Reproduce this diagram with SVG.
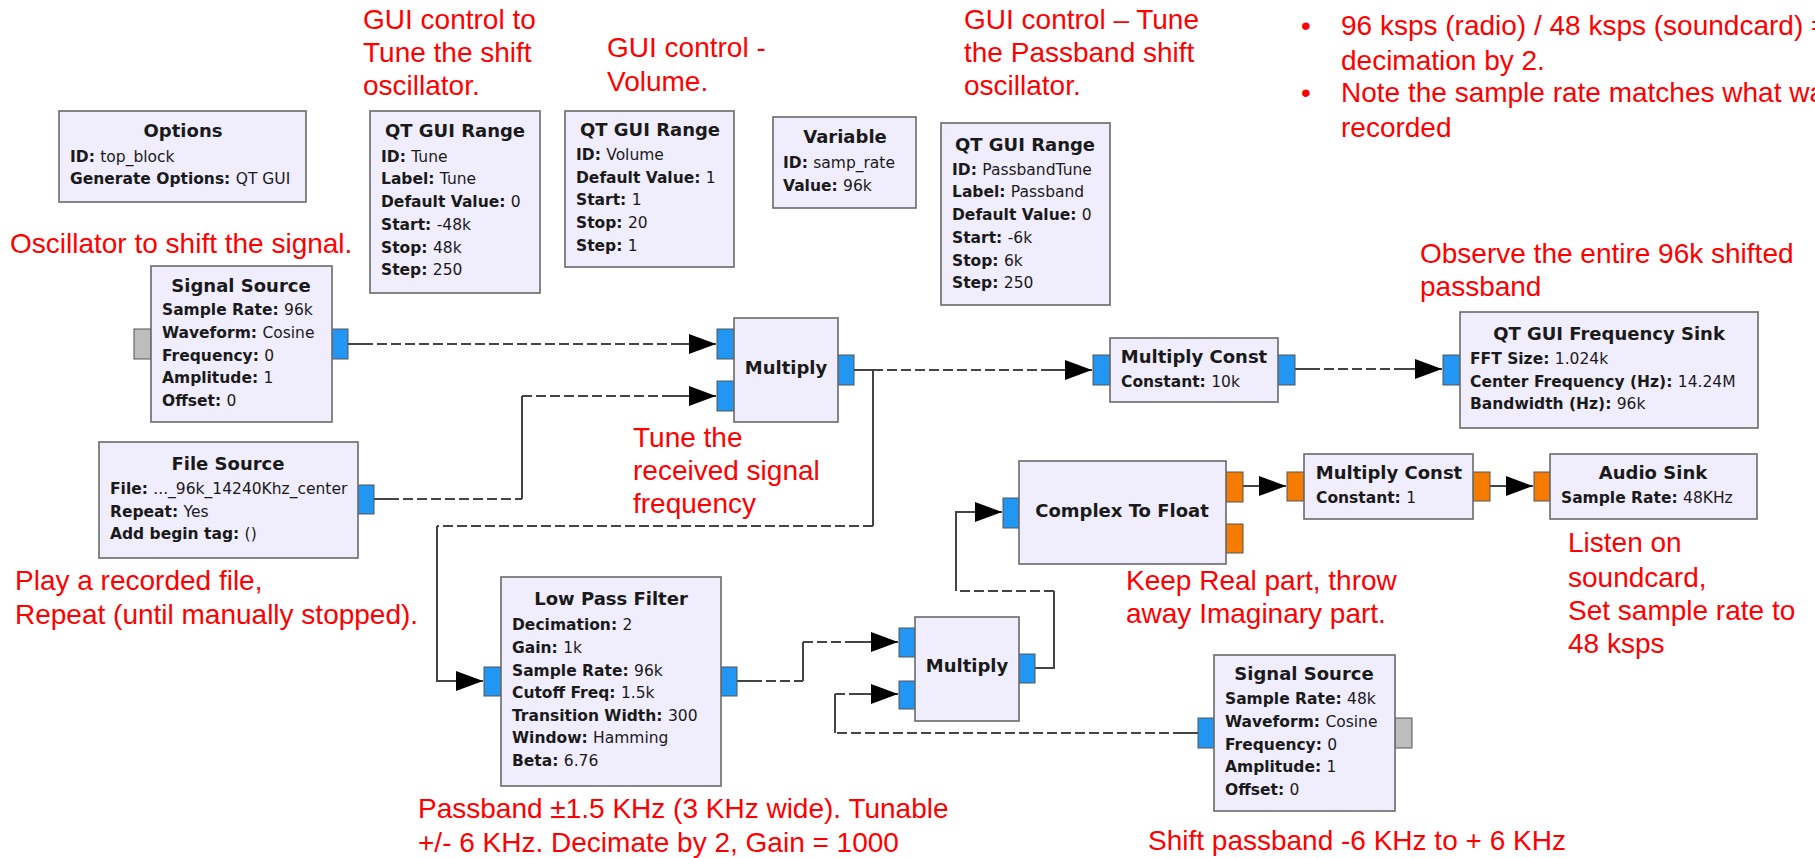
<svg xmlns="http://www.w3.org/2000/svg" width="1815" height="858" viewBox="0 0 1815 858">
<style>
.blk{fill:#F0EDFD;stroke:#6a6a6a;stroke-width:1.6}
.pc{fill:#2196F3;stroke:#555;stroke-width:1}
.pf{fill:#F57C00;stroke:#555;stroke-width:1}
.pg{fill:#BDBDBD;stroke:#555;stroke-width:1}
.t{font-family:"DejaVu Sans",sans-serif;font-size:18px;font-weight:bold;fill:#1a1a1a;text-anchor:middle}
.p{font-family:"DejaVu Sans",sans-serif;font-size:15.5px;fill:#1a1a1a}
.p tspan.b{font-weight:bold}
.r{font-family:"Liberation Sans",Arial,sans-serif;font-size:28px;fill:#ff0000}
.s{stroke:#444;stroke-width:2;fill:none}
.d{stroke:#444;stroke-width:2;fill:none;stroke-dasharray:10 4}
</style>
<defs>
<marker id="ah" markerUnits="userSpaceOnUse" viewBox="0 0 27 20" markerWidth="27" markerHeight="20" refX="27" refY="10" orient="auto">
<path d="M0,0 L27,10 L0,20 z" fill="#000"/>
</marker>
</defs>

<g id="connectors">
<g id="c1"><path class="s" d="M348,344H363"/><path class="d" d="M363,344H672"/><path class="s" d="M672,344H716" marker-end="url(#ah)"/></g>
<g id="c2"><path class="s" d="M374,499H389"/><path class="d" d="M389,499H522"/><path class="s" d="M522,499V396"/><path class="d" d="M522,396H672"/><path class="s" d="M672,396H716" marker-end="url(#ah)"/></g>
<g id="c3"><path class="s" d="M854,370H873"/><path class="d" d="M873,370H1048"/><path class="s" d="M1048,370H1092" marker-end="url(#ah)"/></g>
<g id="c4"><path class="s" d="M873,370V526"/><path class="d" d="M873,526H437"/><path class="s" d="M437,526V681H483" marker-end="url(#ah)"/></g>
<g id="c5"><path class="s" d="M1295,369H1310"/><path class="d" d="M1310,369H1397"/><path class="s" d="M1397,369H1442" marker-end="url(#ah)"/></g>
<g id="c6"><path class="s" d="M737,681H752"/><path class="d" d="M752,681H803"/><path class="s" d="M803,681V642"/><path class="d" d="M803,642H852"/><path class="s" d="M852,642H898" marker-end="url(#ah)"/></g>
<g id="c7"><path class="s" d="M1198,733H1183"/><path class="d" d="M1183,733H835"/><path class="s" d="M835,733V694"/><path class="d" d="M835,694H852"/><path class="s" d="M852,694H898" marker-end="url(#ah)"/></g>
<g id="c8"><path class="s" d="M1035,668H1054V591"/><path class="d" d="M1054,591H956"/><path class="s" d="M956,591V512H1002" marker-end="url(#ah)"/></g>
<g id="c9"><path class="s" d="M1243,486H1286" marker-end="url(#ah)"/></g>
<g id="c10"><path class="s" d="M1490,486H1533" marker-end="url(#ah)"/></g>
</g>

<g id="options">
<rect class="blk" x="59" y="111" width="247" height="91"/>
<text class="t" x="183" y="137">Options</text>
<text class="p" x="70" y="162"><tspan class="b">ID: </tspan>top_block</text>
<text class="p" x="70" y="184"><tspan class="b">Generate Options: </tspan>QT GUI</text>
</g>

<g id="range_tune">
<rect class="blk" x="370" y="111" width="170" height="182"/>
<text class="t" x="455" y="137">QT GUI Range</text>
<text class="p" x="381" y="162"><tspan class="b">ID: </tspan>Tune</text>
<text class="p" x="381" y="184"><tspan class="b">Label: </tspan>Tune</text>
<text class="p" x="381" y="207"><tspan class="b">Default Value: </tspan>0</text>
<text class="p" x="381" y="230"><tspan class="b">Start: </tspan>-48k</text>
<text class="p" x="381" y="253"><tspan class="b">Stop: </tspan>48k</text>
<text class="p" x="381" y="275"><tspan class="b">Step: </tspan>250</text>
</g>

<g id="range_volume">
<rect class="blk" x="565" y="111" width="169" height="156"/>
<text class="t" x="650" y="136">QT GUI Range</text>
<text class="p" x="576" y="160"><tspan class="b">ID: </tspan>Volume</text>
<text class="p" x="576" y="183"><tspan class="b">Default Value: </tspan>1</text>
<text class="p" x="576" y="205"><tspan class="b">Start: </tspan>1</text>
<text class="p" x="576" y="228"><tspan class="b">Stop: </tspan>20</text>
<text class="p" x="576" y="251"><tspan class="b">Step: </tspan>1</text>
</g>

<g id="variable">
<rect class="blk" x="773" y="117" width="143" height="91"/>
<text class="t" x="845" y="143">Variable</text>
<text class="p" x="783" y="168"><tspan class="b">ID: </tspan>samp_rate</text>
<text class="p" x="783" y="191"><tspan class="b">Value: </tspan>96k</text>
</g>

<g id="range_passband">
<rect class="blk" x="941" y="123" width="169" height="182"/>
<text class="t" x="1025" y="151">QT GUI Range</text>
<text class="p" x="952" y="175"><tspan class="b">ID: </tspan>PassbandTune</text>
<text class="p" x="952" y="197"><tspan class="b">Label: </tspan>Passband</text>
<text class="p" x="952" y="220"><tspan class="b">Default Value: </tspan>0</text>
<text class="p" x="952" y="243"><tspan class="b">Start: </tspan>-6k</text>
<text class="p" x="952" y="266"><tspan class="b">Stop: </tspan>6k</text>
<text class="p" x="952" y="288"><tspan class="b">Step: </tspan>250</text>
</g>

<g id="signal_source_1">
<rect class="pg" x="134" y="329" width="17" height="30"/>
<rect class="pc" x="332" y="329" width="16" height="30"/>
<rect class="blk" x="151" y="266" width="181" height="156"/>
<text class="t" x="241" y="292">Signal Source</text>
<text class="p" x="162" y="315"><tspan class="b">Sample Rate: </tspan>96k</text>
<text class="p" x="162" y="338"><tspan class="b">Waveform: </tspan>Cosine</text>
<text class="p" x="162" y="361"><tspan class="b">Frequency: </tspan>0</text>
<text class="p" x="162" y="383"><tspan class="b">Amplitude: </tspan>1</text>
<text class="p" x="162" y="406"><tspan class="b">Offset: </tspan>0</text>
</g>

<g id="file_source">
<rect class="pc" x="358" y="485" width="16" height="29"/>
<rect class="blk" x="99" y="442" width="259" height="116"/>
<text class="t" x="228" y="470">File Source</text>
<text class="p" x="110" y="494"><tspan class="b">File: </tspan>..._96k_14240Khz_center</text>
<text class="p" x="110" y="517"><tspan class="b">Repeat: </tspan>Yes</text>
<text class="p" x="110" y="539"><tspan class="b">Add begin tag: </tspan>()</text>
</g>

<g id="multiply_1">
<rect class="pc" x="717" y="329" width="17" height="30"/>
<rect class="pc" x="717" y="381" width="17" height="30"/>
<rect class="pc" x="838" y="355" width="16" height="30"/>
<rect class="blk" x="734" y="318" width="104" height="104"/>
<text class="t" x="786" y="374">Multiply</text>
</g>

<g id="multiply_const_10k">
<rect class="pc" x="1093" y="355" width="17" height="30"/>
<rect class="pc" x="1278" y="355" width="17" height="30"/>
<rect class="blk" x="1110" y="338" width="168" height="64"/>
<text class="t" x="1194" y="363">Multiply Const</text>
<text class="p" x="1121" y="387"><tspan class="b">Constant: </tspan>10k</text>
</g>

<g id="freq_sink">
<rect class="pc" x="1443" y="355" width="17" height="30"/>
<rect class="blk" x="1460" y="312" width="298" height="116"/>
<text class="t" x="1609" y="340">QT GUI Frequency Sink</text>
<text class="p" x="1470" y="364"><tspan class="b">FFT Size: </tspan>1.024k</text>
<text class="p" x="1470" y="387"><tspan class="b">Center Frequency (Hz): </tspan>14.24M</text>
<text class="p" x="1470" y="409"><tspan class="b">Bandwidth (Hz): </tspan>96k</text>
</g>

<g id="complex_to_float">
<rect class="pc" x="1003" y="498" width="16" height="30"/>
<rect class="pf" x="1226" y="472" width="17" height="30"/>
<rect class="pf" x="1226" y="524" width="17" height="29"/>
<rect class="blk" x="1019" y="461" width="207" height="103"/>
<text class="t" x="1122" y="517">Complex To Float</text>
</g>

<g id="multiply_const_1">
<rect class="pf" x="1287" y="472" width="17" height="29"/>
<rect class="pf" x="1473" y="472" width="17" height="29"/>
<rect class="blk" x="1304" y="454" width="169" height="65"/>
<text class="t" x="1389" y="479">Multiply Const</text>
<text class="p" x="1316" y="503"><tspan class="b">Constant: </tspan>1</text>
</g>

<g id="audio_sink">
<rect class="pf" x="1534" y="472" width="16" height="29"/>
<rect class="blk" x="1550" y="454" width="207" height="65"/>
<text class="t" x="1653" y="479">Audio Sink</text>
<text class="p" x="1561" y="503"><tspan class="b">Sample Rate: </tspan>48KHz</text>
</g>

<g id="low_pass_filter">
<rect class="pc" x="484" y="667" width="17" height="29"/>
<rect class="pc" x="721" y="667" width="16" height="29"/>
<rect class="blk" x="501" y="577" width="220" height="209"/>
<text class="t" x="611" y="605">Low Pass Filter</text>
<text class="p" x="512" y="630"><tspan class="b">Decimation: </tspan>2</text>
<text class="p" x="512" y="653"><tspan class="b">Gain: </tspan>1k</text>
<text class="p" x="512" y="676"><tspan class="b">Sample Rate: </tspan>96k</text>
<text class="p" x="512" y="698"><tspan class="b">Cutoff Freq: </tspan>1.5k</text>
<text class="p" x="512" y="721"><tspan class="b">Transition Width: </tspan>300</text>
<text class="p" x="512" y="743"><tspan class="b">Window: </tspan>Hamming</text>
<text class="p" x="512" y="766"><tspan class="b">Beta: </tspan>6.76</text>
</g>

<g id="multiply_2">
<rect class="pc" x="899" y="628" width="16" height="29"/>
<rect class="pc" x="899" y="681" width="16" height="28"/>
<rect class="pc" x="1019" y="654" width="16" height="29"/>
<rect class="blk" x="915" y="617" width="104" height="104"/>
<text class="t" x="967" y="672">Multiply</text>
</g>

<g id="signal_source_2">
<rect class="pc" x="1198" y="718" width="16" height="30"/>
<rect class="pg" x="1395" y="718" width="17" height="30"/>
<rect class="blk" x="1214" y="655" width="181" height="156"/>
<text class="t" x="1304" y="680">Signal Source</text>
<text class="p" x="1225" y="704"><tspan class="b">Sample Rate: </tspan>48k</text>
<text class="p" x="1225" y="727"><tspan class="b">Waveform: </tspan>Cosine</text>
<text class="p" x="1225" y="750"><tspan class="b">Frequency: </tspan>0</text>
<text class="p" x="1225" y="772"><tspan class="b">Amplitude: </tspan>1</text>
<text class="p" x="1225" y="795"><tspan class="b">Offset: </tspan>0</text>
</g>

<g id="annotations">
<text class="r" x="363" y="29">GUI control to</text>
<text class="r" x="363" y="62">Tune the shift</text>
<text class="r" x="363" y="95">oscillator.</text>
<text class="r" x="607" y="57">GUI control -</text>
<text class="r" x="607" y="91">Volume.</text>
<text class="r" x="964" y="29">GUI control – Tune</text>
<text class="r" x="964" y="62">the Passband shift</text>
<text class="r" x="964" y="95">oscillator.</text>
<text class="r" x="1301" y="35">•</text>
<text class="r" x="1341" y="35">96 ksps (radio) / 48 ksps (soundcard) =</text>
<text class="r" x="1341" y="70">decimation by 2.</text>
<text class="r" x="1301" y="102">•</text>
<text class="r" x="1341" y="102">Note the sample rate matches what was</text>
<text class="r" x="1341" y="137">recorded</text>
<text class="r" x="10" y="253">Oscillator to shift the signal.</text>
<text class="r" x="1420" y="263">Observe the entire 96k shifted</text>
<text class="r" x="1420" y="296">passband</text>
<text class="r" x="633" y="447">Tune the</text>
<text class="r" x="633" y="480">received signal</text>
<text class="r" x="633" y="513">frequency</text>
<text class="r" x="15" y="590">Play a recorded file,</text>
<text class="r" x="15" y="624">Repeat (until manually stopped).</text>
<text class="r" x="1126" y="590">Keep Real part, throw</text>
<text class="r" x="1126" y="623">away Imaginary part.</text>
<text class="r" x="1568" y="552">Listen on</text>
<text class="r" x="1568" y="587">soundcard,</text>
<text class="r" x="1568" y="620">Set sample rate to</text>
<text class="r" x="1568" y="653">48 ksps</text>
<text class="r" x="418" y="818">Passband ±1.5 KHz (3 KHz wide). Tunable</text>
<text class="r" x="418" y="852">+/- 6 KHz. Decimate by 2, Gain = 1000</text>
<text class="r" x="1148" y="850">Shift passband -6 KHz to + 6 KHz</text>
</g>
</svg>
